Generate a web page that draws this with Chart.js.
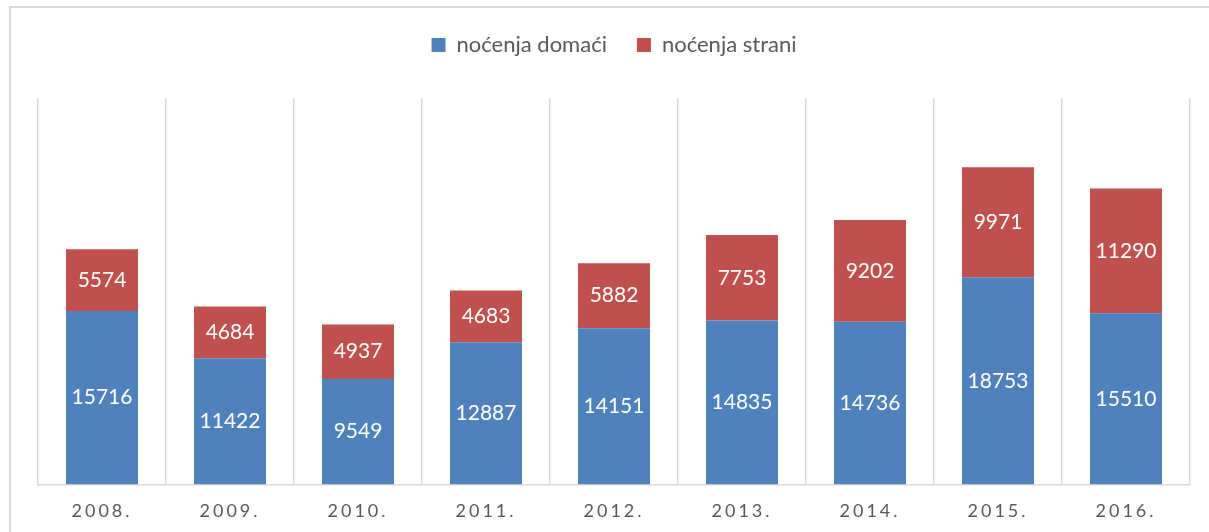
<!DOCTYPE html>
<html>
<head>
<meta charset="utf-8">
<script src="https://cdn.jsdelivr.net/npm/chart.js@4"></script>
<style>
  html, body { margin: 0; padding: 0; background: #fff; }
  #wrap { position: relative; width: 1209px; height: 532px; overflow: hidden; }
  #frame { position: absolute; left: 9px; top: 6px; width: 1220px; height: 560px; border: 2px solid #d9d9d9; box-sizing: border-box; }
  #chart { position: absolute; left: 0; top: 0; }
</style>
</head>
<body>
<div id="wrap">
  <div id="frame"></div>
  <canvas id="chart" width="1209" height="532"></canvas>
</div>
<script>
const years = ['2008.', '2009.', '2010.', '2011.', '2012.', '2013.', '2014.', '2015.', '2016.'];
const domaci = [15716, 11422, 9549, 12887, 14151, 14835, 14736, 18753, 15510];
const strani = [5574, 4684, 4937, 4683, 5882, 7753, 9202, 9971, 11290];
const seriesNames = ['noćenja domaći', 'noćenja strani'];

const FONT = 'Lato, "Open Sans", sans-serif';

// white value labels in the middle of each segment, then letter spacing for the x ticks
const barLabels = {
  id: 'barLabels',
  afterInit(chart) {
    const legend = chart.legend;
    const fit = legend.fit;
    legend.fit = function () {
      fit.call(this);
      this.height += 32;
    };
  },
  afterDatasetsDraw(chart) {
    const ctx = chart.ctx;
    ctx.save();
    ctx.font = '21px ' + FONT;
    ctx.fillStyle = '#ffffff';
    ctx.textAlign = 'center';
    ctx.textBaseline = 'middle';
    chart.data.datasets.forEach((ds, i) => {
      chart.getDatasetMeta(i).data.forEach((bar, j) => {
        const mid = (bar.y + bar.base) / 2;
        ctx.fillText(String(ds.data[j]), bar.x, mid);
      });
    });
    ctx.restore();
    ctx.letterSpacing = '3px';
  },
  afterDraw(chart) {
    chart.ctx.letterSpacing = '0px';
  }
};

new Chart(document.getElementById('chart'), {
  type: 'bar',
  data: {
    labels: years,
    datasets: [
      { label: seriesNames[0], data: domaci, backgroundColor: '#4F81BD' },
      { label: seriesNames[1], data: strani, backgroundColor: '#C0504D' }
    ]
  },
  options: {
    responsive: false,
    animation: false,
    datasets: {
      bar: { barPercentage: 0.5625, categoryPercentage: 1 }
    },
    layout: { padding: { top: 4, left: 38, right: 19, bottom: -6 } },
    plugins: {
      legend: {
        position: 'top',
        labels: {
          boxWidth: 14,
          boxHeight: 14,
          padding: 30,
          color: '#595959',
          font: { family: FONT, size: 22 }
        }
      },
      tooltip: { enabled: false }
    },
    scales: {
      x: {
        stacked: true,
        grid: { color: '#d9d9d9', lineWidth: 1.5, drawTicks: false, offset: true },
        border: { color: '#d9d9d9', width: 1.5 },
        ticks: {
          z: 1,
          padding: 16,
          color: '#595959',
          font: { family: FONT, size: 18 }
        }
      },
      y: {
        stacked: true,
        display: false,
        min: 0,
        max: 35000
      }
    }
  },
  plugins: [barLabels]
});
</script>
</body>
</html>
